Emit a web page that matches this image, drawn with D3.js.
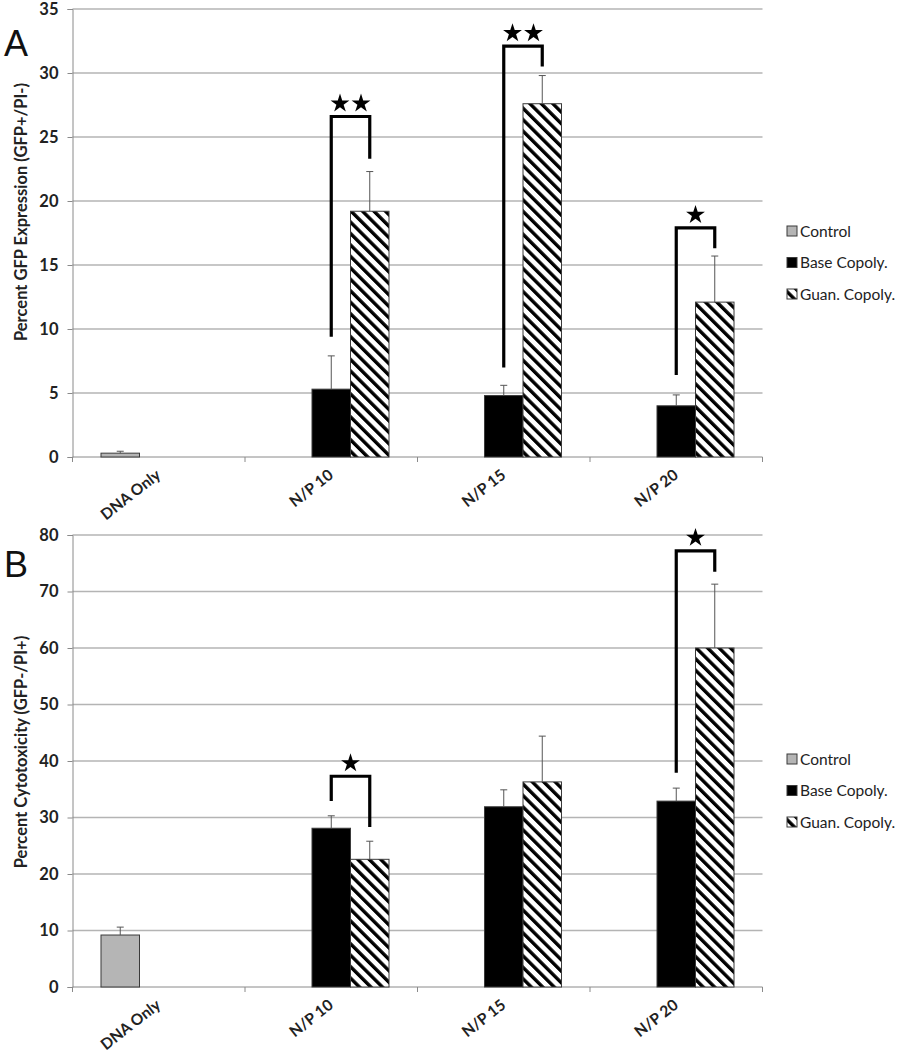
<!DOCTYPE html>
<html><head><meta charset="utf-8">
<script src="https://cdn.jsdelivr.net/npm/d3@7"></script>
<style>body{margin:0;background:#fff}svg{display:block}</style>
</head><body>
<svg id="chart" width="903" height="1050"></svg>
<script>
const categories = ["DNA Only","N/P 10","N/P 15","N/P 20"];
const seriesNames = ["Control","Base Copoly.","Guan. Copoly."];

// Panel A: Percent GFP Expression
const gfpControl = [0.3, null, null, null];
const gfpControlErr = [0.15, null, null, null];
const gfpBase = [null, 5.3, 4.8, 4.0];
const gfpBaseErr = [null, 2.6, 0.8, 0.85];
const gfpGuan = [null, 19.2, 27.6, 12.1];
const gfpGuanErr = [null, 3.1, 2.2, 3.6];
const gfpTicks = [0,5,10,15,20,25,30,35];
// brackets: category, top, left-leg bottom, right-leg bottom, star count
const gfpBrackets = [
  {cat:"N/P 10", top:26.6, left:9.4, right:23.3, stars:2},
  {cat:"N/P 15", top:32.1, left:7.0, right:30.5, stars:2},
  {cat:"N/P 20", top:17.9, left:6.4, right:16.3, stars:1}
];

// Panel B: Percent Cytotoxicity
const cytoControl = [9.2, null, null, null];
const cytoControlErr = [1.4, null, null, null];
const cytoBase = [null, 28.1, 31.9, 32.9];
const cytoBaseErr = [null, 2.2, 3.0, 2.3];
const cytoGuan = [null, 22.6, 36.3, 60.0];
const cytoGuanErr = [null, 3.2, 8.1, 11.3];
const cytoTicks = [0,10,20,30,40,50,60,70,80];
const cytoBrackets = [
  {cat:"N/P 10", top:37.3, left:32.9, right:28.3, stars:1},
  {cat:"N/P 20", top:77.2, left:37.9, right:73.5, stars:1}
];

const svg = d3.select("#chart");
const defs = svg.append("defs");
const pat = defs.append("pattern").attr("id","hatch")
  .attr("patternUnits","userSpaceOnUse").attr("width",8.1).attr("height",8.1)
  .attr("patternTransform","rotate(-45)");
pat.append("rect").attr("width",8.1).attr("height",8.1).attr("fill","#fff");
pat.append("rect").attr("x",0).attr("y",0).attr("width",3.4).attr("height",8.1).attr("fill","#000");

const fills = {"Control":"#b5b5b5","Base Copoly.":"#000","Guan. Copoly.":"url(#hatch)"};
const FONT = "Lato, 'Open Sans', sans-serif";

function panel(cfg){
  const g = svg.append("g");
  const x0 = d3.scaleBand().domain(categories).range([72.5, 762.5]);
  const x1 = d3.scaleBand().domain(seriesNames).range([0, x0.bandwidth()]).paddingOuter(0.74);
  const y = d3.scaleLinear().domain([0, cfg.max]).range([cfg.bottom, cfg.top]);

  // gridlines
  g.selectAll(".grid").data(cfg.ticks.filter(t=>t>0)).join("line")
    .attr("x1",72.5).attr("x2",762.5)
    .attr("y1",d=>y(d)).attr("y2",d=>y(d))
    .attr("stroke","#b4b4b4").attr("stroke-width",1.4);

  // y axis
  const yAxis = d3.axisLeft(y).tickValues(cfg.ticks).tickSize(5).tickPadding(9);
  const ya = g.append("g").attr("transform","translate(72.5,0)").call(yAxis);
  ya.select(".domain").attr("stroke","#8a8a8a");
  ya.selectAll(".tick line").attr("stroke","#8a8a8a");
  ya.selectAll(".tick text").attr("font-family",FONT).attr("font-size",16.5)
    .attr("font-weight","bold").attr("fill","#222");

  // x axis line and ticks at category boundaries
  g.append("line").attr("x1",72.5).attr("x2",762.5).attr("y1",y(0)).attr("y2",y(0))
    .attr("stroke","#8a8a8a");
  const bounds = categories.map(c=>x0(c)).concat([x0.range()[1]]);
  g.selectAll(".xt").data(bounds).join("line")
    .attr("x1",d=>d).attr("x2",d=>d).attr("y1",y(0)).attr("y2",y(0)+5)
    .attr("stroke","#8a8a8a");
  g.selectAll(".xl").data(categories).join("text")
    .attr("transform",c=>`translate(${x0(c)+x0.bandwidth()/2+3},${y(0)+20}) rotate(-38)`)
    .attr("text-anchor","end").attr("font-family",FONT).attr("font-size",15.5)
    .attr("font-weight","bold").attr("fill","#222").text(c=>c);

  // bars
  const rows = [];
  categories.forEach((c,i)=>{
    cfg.series.forEach((s,j)=>{
      if (s.vals[i]!=null) rows.push({cat:c, name:seriesNames[j], v:s.vals[i], e:s.errs[i]});
    });
  });
  g.selectAll(".bar").data(rows).join("rect")
    .attr("x",d=>x0(d.cat)+x1(d.name)).attr("width",x1.bandwidth())
    .attr("y",d=>y(d.v)).attr("height",d=>y(0)-y(d.v))
    .attr("fill",d=>fills[d.name]).attr("stroke","#3a3a3a").attr("stroke-width",1);

  // error bars (upper only)
  const eg = g.selectAll(".err").data(rows).join("g");
  eg.append("line")
    .attr("x1",d=>x0(d.cat)+x1(d.name)+x1.bandwidth()/2).attr("x2",d=>x0(d.cat)+x1(d.name)+x1.bandwidth()/2)
    .attr("y1",d=>y(d.v)).attr("y2",d=>y(d.v+d.e)).attr("stroke","#555").attr("stroke-width",1);
  eg.append("line")
    .attr("x1",d=>x0(d.cat)+x1(d.name)+x1.bandwidth()/2-3.5).attr("x2",d=>x0(d.cat)+x1(d.name)+x1.bandwidth()/2+3.5)
    .attr("y1",d=>y(d.v+d.e)).attr("y2",d=>y(d.v+d.e)).attr("stroke","#555").attr("stroke-width",1);

  // significance brackets
  cfg.brackets.forEach(b=>{
    const xl = x0(b.cat)+x1("Base Copoly.")+x1.bandwidth()/2;
    const xr = x0(b.cat)+x1("Guan. Copoly.")+x1.bandwidth()/2;
    g.append("path")
      .attr("d",`M${xl},${y(b.left)}V${y(b.top)}H${xr}V${y(b.right)}`)
      .attr("fill","none").attr("stroke","#000").attr("stroke-width",3.2)
      .attr("stroke-linejoin","miter").attr("stroke-linecap","butt");
    const cx = (xl+xr)/2;
    const offs = b.stars===2 ? [-10.5,10.5] : [0];
    offs.forEach(o=>{
      g.append("path").attr("d",d3.symbol(d3.symbolStar,110)())
        .attr("transform",`translate(${cx+o},${y(b.top)-13})`).attr("fill","#000");
    });
  });

  // y axis title
  g.append("text").attr("transform",`translate(${cfg.titleX},${cfg.titleY}) rotate(-90)`)
    .attr("text-anchor","middle").attr("font-family",FONT).attr("font-size",16.5)
    .attr("font-weight","bold").attr("fill","#222").text(cfg.title);

  // panel letter
  g.append("text").attr("x",4).attr("y",cfg.letterY).attr("font-family","'Liberation Sans', Arial, sans-serif")
    .attr("font-size",36).attr("fill","#111").text(cfg.letter);

  // legend
  const lg = g.selectAll(".leg").data(seriesNames).join("g")
    .attr("transform",(d,i)=>`translate(787,${cfg.legendY + i*31.5})`);
  lg.append("rect").attr("x",0).attr("y",-5).attr("width",10).attr("height",10)
    .attr("fill",d=>fills[d]).attr("stroke","#3a3a3a").attr("stroke-width",1);
  lg.append("text").attr("x",13).attr("y",5.5).attr("font-family",FONT).attr("font-size",15.5)
    .attr("fill","#222").text(d=>d);
}

panel({max:35, top:9, bottom:457, ticks:gfpTicks,
  series:[{vals:gfpControl,errs:gfpControlErr},{vals:gfpBase,errs:gfpBaseErr},{vals:gfpGuan,errs:gfpGuanErr}],
  brackets:gfpBrackets, title:"Percent GFP Expression (GFP+/PI-)", titleX:27, titleY:212,
  letter:"A", letterY:56, legendY:231});

panel({max:80, top:535, bottom:987, ticks:cytoTicks,
  series:[{vals:cytoControl,errs:cytoControlErr},{vals:cytoBase,errs:cytoBaseErr},{vals:cytoGuan,errs:cytoGuanErr}],
  brackets:cytoBrackets, title:"Percent Cytotoxicity (GFP-/PI+)", titleX:27, titleY:752,
  letter:"B", letterY:577, legendY:759});
</script>
</body></html>
